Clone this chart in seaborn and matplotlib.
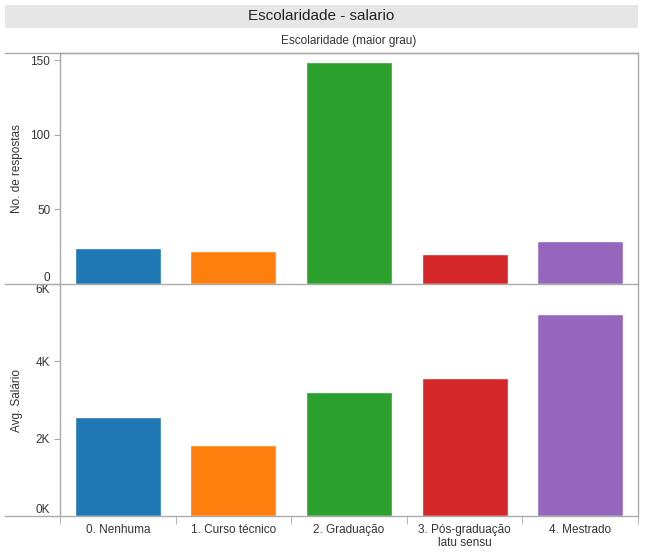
import pandas as pd
import numpy as np
import matplotlib
matplotlib.use("Agg")
import matplotlib.pyplot as plt
from matplotlib.lines import Line2D
from matplotlib.patches import Rectangle
from matplotlib.ticker import FuncFormatter, FixedLocator
import seaborn as sns

# Data
categorias = ["0. Nenhuma", "1. Curso técnico", "2. Graduação",
              "3. Pós-graduação\nlatu sensu", "4. Mestrado"]
respostas = [24, 22, 149, 20, 29]
salario_medio = [2560, 1840, 3205, 3565, 5215]

cores = ["#1f77b4", "#ff7f0e", "#2ca02c", "#d62728", "#9467bd"]
df = pd.DataFrame({"cat": categorias, "n": respostas, "sal": salario_medio})

sns.set_style("white")
plt.rcParams["font.family"] = ["Liberation Sans", "DejaVu Sans"]
W, H = 648, 553
fig = plt.figure(figsize=(W / 100, H / 100), dpi=100)

def box(x0, y0, x1, y1):
    # pixel box (top-left origin) -> figure fraction rect
    return [x0 / W, 1 - y1 / H, (x1 - x0) / W, (y1 - y0) / H]

ax1 = fig.add_axes(box(60, 53, 638, 284))
ax2 = fig.add_axes(box(60, 284, 638, 516))
linecol = "#aaaaaa"
txtcol = "#333333"

sns.barplot(data=df, x="cat", y="n", hue="cat", palette=cores, legend=False,
            width=0.745, saturation=1, ax=ax1)
sns.barplot(data=df, x="cat", y="sal", hue="cat", palette=cores, legend=False,
            width=0.745, saturation=1, ax=ax2)

ax1.set_ylim(0, 155)
ax1.set_yticks([0, 50, 100, 150])
ax2.set_ylim(0, 6000)
ax2.set_yticks([0, 2000, 4000, 6000])
ax2.yaxis.set_major_formatter(FuncFormatter(lambda v, p: f"{int(v / 1000)}K"))

for ax in (ax1, ax2):
    ax.set_xlim(-0.5, 4.5)
    for s in ax.spines.values():
        s.set_color(linecol)
        s.set_linewidth(1)
    ax.tick_params(axis="y", length=4, color=linecol, labelsize=8.5,
                   labelcolor=txtcol, pad=3, left=True)
    ax.set_xlabel("")

# labels at the panel edges sit inside the panel, as in the reference
fig.canvas.draw()
ax1.get_yticklabels()[0].set_va("bottom")
ax2.get_yticklabels()[0].set_va("bottom")
ax2.get_yticklabels()[-1].set_va("top")

ax1.set_xticks([])
ax1.spines["bottom"].set_visible(False)
ax2.spines["top"].set_visible(False)
ax2.spines["bottom"].set_visible(False)
ax2.set_xticks(range(5))
ax2.set_xticklabels(categorias, fontsize=8.5, color=txtcol, linespacing=1.1)
ax2.tick_params(axis="x", length=0, pad=6)
ax2.xaxis.set_minor_locator(FixedLocator(np.arange(-0.5, 5, 1)))
ax2.tick_params(axis="x", which="minor", length=6, color=linecol, bottom=True)

ax1.set_ylabel("No. de respostas", fontsize=8.5, color=txtcol)
ax2.set_ylabel("Avg. Salário", fontsize=8.5, color=txtcol)
ax1.yaxis.set_label_coords(-0.064, 0.5)
ax2.yaxis.set_label_coords(-0.064, 0.5)

# horizontal rules spanning into the label area
for yp in (53, 284, 516):
    fig.add_artist(Line2D([5 / W, 638 / W], [1 - yp / H, 1 - yp / H],
                          color=linecol, lw=1))

# title band
fig.add_artist(Rectangle((5 / W, 1 - 28 / H), 633 / W, 23 / H,
                         facecolor="#e6e6e6", edgecolor="none"))
fig.text(321 / W, 1 - 16.5 / H, "Escolaridade - salario", ha="center",
         va="center", fontsize=11, color="#222222")
fig.text(349 / W, 1 - 41 / H, "Escolaridade (maior grau)", ha="center",
         va="center", fontsize=8.5, color=txtcol)

fig.savefig("out.png", dpi=100)
